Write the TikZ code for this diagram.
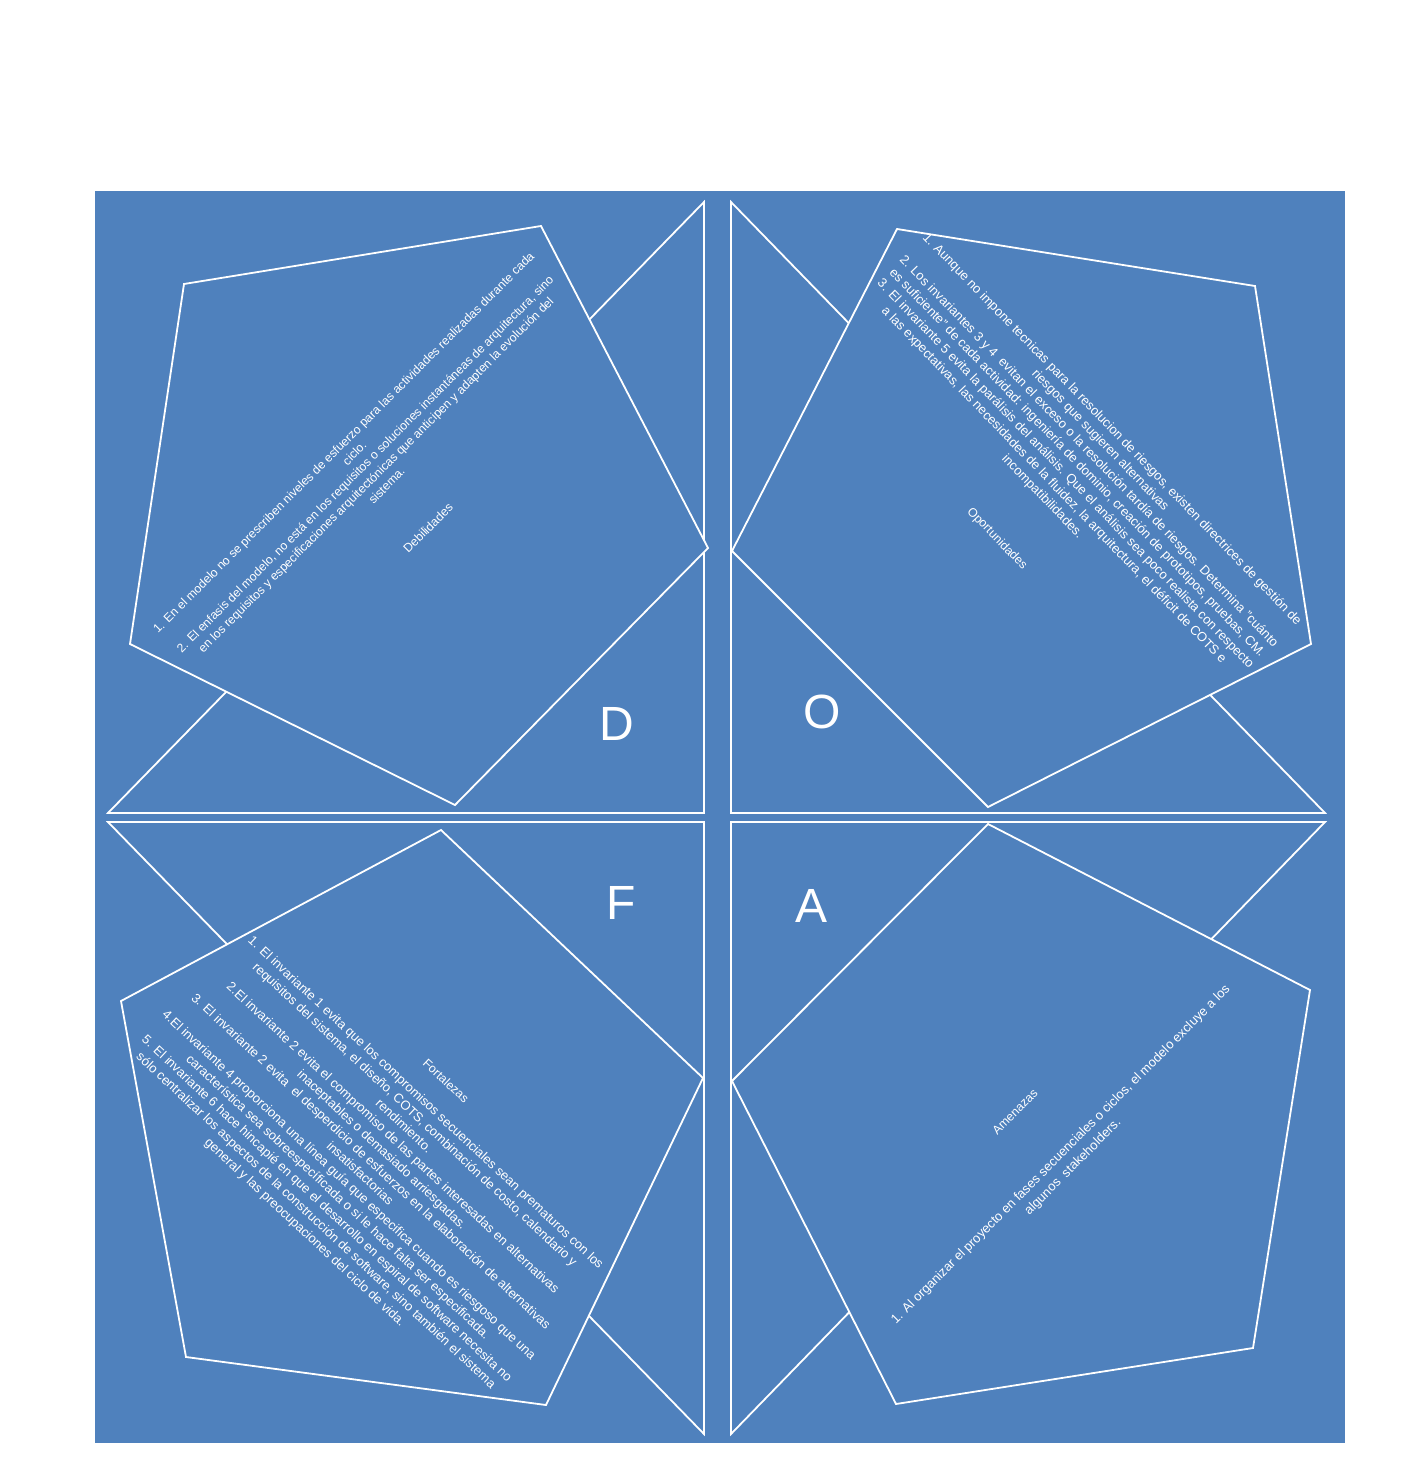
\documentclass[tikz,border=0pt]{standalone}
\usepackage{fontspec}
\setmainfont{Liberation Sans}
\definecolor{bluebg}{RGB}{79,129,189}
\begin{document}
\begin{tikzpicture}[x=1pt,y=-1pt,
  tri/.style={draw=white, line width=1.8pt, line join=miter},
  pent/.style={draw=white, fill=bluebg, line width=1.8pt, line join=miter},
  body/.style={text=white, align=center, inner sep=0pt, font=\fontsize{13}{16.1}\selectfont},
  bodyD/.style={text=white, align=center, inner sep=0pt, font=\fontsize{12.2}{15.2}\selectfont},
  title/.style={text=white, inner sep=0pt, font=\fontsize{12.3}{14}\selectfont},
  letter/.style={text=white, inner sep=0pt, font=\fontsize{48}{48}\selectfont}]
\useasboundingbox (0,0) rectangle (1418,1464);
\fill[white] (0,0) rectangle (1418,1464);
\fill[bluebg] (95,191) rectangle (1345,1443);
% triangles
\draw[tri] (108,813) -- (704,813) -- (704,202) -- cycle;
\draw[tri] (731,202) -- (731,813) -- (1325,813) -- cycle;
\draw[tri] (108,822) -- (704,822) -- (704,1434) -- cycle;
\draw[tri] (731,822) -- (1325,822) -- (731,1434) -- cycle;
% pentagons
\draw[pent] (184,284) -- (541,226) -- (708,548) -- (455,805) -- (130,644) -- cycle;
\draw[pent] (897,229) -- (1255,286) -- (1311,644) -- (988,807) -- (732,551) -- cycle;
\draw[pent] (441,830) -- (703,1078) -- (546,1405) -- (186,1357) -- (121,1001) -- cycle;
\draw[pent] (988,824) -- (1310,990) -- (1253,1348) -- (896,1404) -- (732,1081) -- cycle;
% letters
\node[letter] (lD) at (617,724) {D};
\node[letter] (lO) at (822,712) {O};
\node[letter] (lF) at (621,903) {F};
\node[letter] (lA) at (811,906) {A};
% D text
\node[bodyD, rotate=45] (tD) at (365,464) {1. En el modelo no se prescriben niveles de esfuerzo para las actividades realizadas durante cada\\
ciclo.\\
2. El enfasis del modelo, no está en los requisitos o soluciones instantáneas de arquitectura, sino\\
en los requisitos y especificaciones arquitectónicas que anticipen y adapten la evolución del\\
sistema.};
\node[title, rotate=45] (hD) at (428,528) {Debilidades};
% O text
\node[body, rotate=-46] (tO) at (1077,463) {1. Aunque no impone tecnicas para la resolucion de riesgos, existen directrices de gestión de\\
riesgos que sugieren alternativas\\
2. Los invariantes 3 y 4~ evitan el exceso o la resolución tardía de riesgos. Determina "cuánto\\
es suficiente" de cada actividad: ingeniería de dominio, creación de prototipos, pruebas, CM.\\
3. El invariante 5 evita la parálisis del análisis. Que el análisis sea poco realista con respecto\\
a las expectativas, las necesidades de la fluidez, la arquitectura, el déficit de COTS e\\
incompatibilidades.};
\node[title, rotate=-46] (hO) at (997,539) {Oportunidades};
% F text
\node[body, rotate=-43] (tF) at (365,1168) {1. El invariante 1 evita que los compromisos secuenciales sean prematuros con los\\
requisitos del sistema, el diseño, COTS, combinación de costo, calendario y\\
rendimiento.\\
2.El invariante 2 evita el compromiso de las partes interesadas en alternativas\\
inaceptables o demasiado arriesgadas.\\
3. El invariante 2 evita~ el desperdicio de esfuerzos en la elaboración de alternativas\\
insatisfactorias\\
4.El invariante 4 proporciona una línea guía que especifica cuando es riesgoso que una\\
característica sea sobreespecíficada o si le hace falta ser especificada.\\
5. El invariante 6 hace hincapié en que el desarrollo en espiral de software necesita no\\
sólo centralizar los aspectos de la construcción de software, sino también el sistema\\
general y las preocupaciones del ciclo de vida.};
\node[title, rotate=-43] (hF) at (446,1081) {Fortalezas};
% A text
\node[body, rotate=45, font=\fontsize{13}{17}\selectfont] (tA) at (1067,1161) {1. Al organizar el proyecto en fases secuenciales o ciclos, el modelo excluye a los\\
algunos~ stakeholders.};
\node[title, rotate=45] (hA) at (1015,1112) {Amenazas};
\end{tikzpicture}
\end{document}
